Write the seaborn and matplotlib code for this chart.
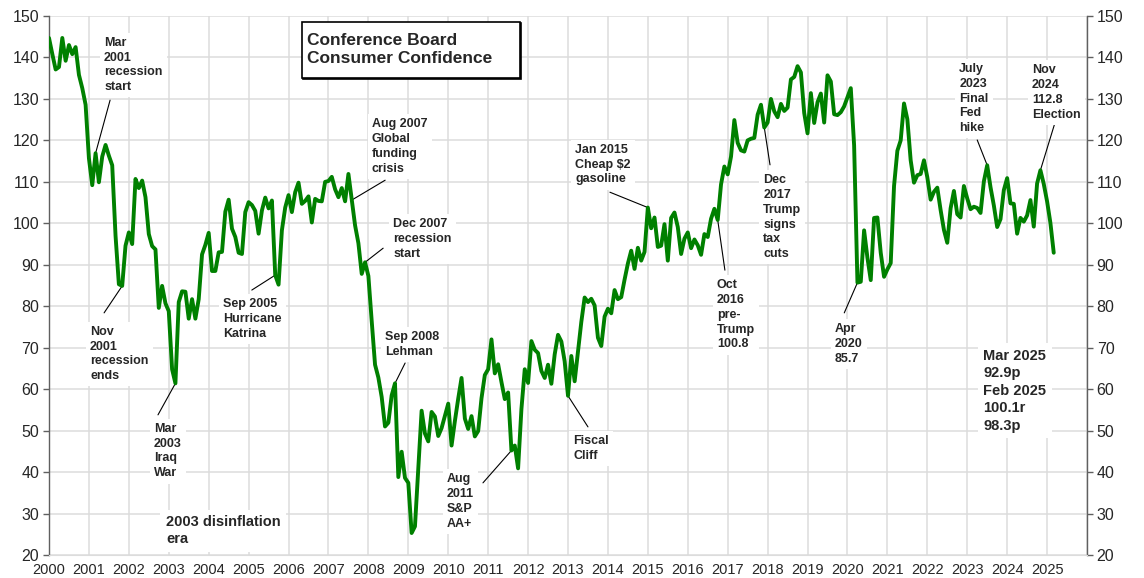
import numpy as np
import pandas as pd
import seaborn as sns
import matplotlib.pyplot as plt
from matplotlib.patches import Rectangle

# Conference Board Consumer Confidence, monthly, Jan 2000 - Mar 2025
values_2000s = [
    144.7, 140.8, 137.1, 137.7, 144.7, 139.2, 143.0, 140.8, 142.5, 135.8, 132.6, 128.6,
    115.7, 109.2, 116.9, 109.9, 116.1, 118.9, 116.3, 114.0, 97.0, 85.3, 84.9, 94.6,
    97.8, 95.0, 110.7, 108.5, 110.3, 106.3, 97.4, 94.5, 93.7, 79.6, 84.9, 80.7,
    78.8, 64.8, 61.4, 81.0, 83.6, 83.5, 77.0, 81.7, 77.0, 81.7, 92.5, 94.8,
    97.7, 88.5, 88.5, 93.0, 93.1, 102.8, 105.7, 98.7, 96.7, 92.9, 92.6, 102.7,
    105.1, 104.4, 103.0, 97.5, 103.1, 106.2, 103.6, 105.5, 87.5, 85.2, 98.3, 103.8,
    106.8, 102.7, 107.5, 109.8, 104.7, 105.4, 106.5, 100.2, 105.9, 105.4, 105.3, 110.0,
    110.2, 111.2, 108.2, 106.3, 108.5, 105.3, 111.9, 105.6, 99.5, 95.2, 87.8, 90.6,
    87.3, 76.4, 65.9, 62.8, 58.1, 51.0, 51.9, 58.5, 61.4, 38.8, 44.9, 38.6,
    37.4, 25.3, 26.9, 40.8, 54.8, 49.3, 47.4, 54.5, 53.4, 48.7, 50.6, 53.6,
]
values_2010s = [
    56.5, 46.4, 52.3, 57.7, 62.7, 52.9, 50.4, 53.5, 48.6, 49.9, 57.8, 63.4,
    64.8, 72.0, 63.8, 66.0, 61.7, 57.6, 59.2, 45.2, 46.4, 40.9, 55.2, 64.8,
    61.5, 71.6, 69.5, 68.7, 64.4, 62.7, 65.9, 61.3, 68.4, 73.1, 71.5, 66.7,
    58.4, 68.0, 61.9, 69.0, 76.2, 82.1, 81.0, 81.8, 80.2, 72.4, 70.4, 77.5,
    79.4, 78.3, 83.9, 81.7, 82.2, 86.4, 90.3, 93.4, 89.0, 94.1, 91.0, 93.1,
    103.8, 98.8, 101.4, 94.3, 94.6, 99.8, 91.0, 101.3, 102.6, 99.1, 92.6, 96.3,
    97.8, 94.0, 96.1, 94.7, 92.4, 97.4, 96.7, 101.1, 103.5, 100.8, 109.4, 113.7,
    111.8, 116.1, 124.9, 119.4, 117.6, 117.3, 120.0, 120.4, 120.6, 126.2, 128.6, 123.1,
    124.3, 130.0, 127.0, 125.6, 128.8, 127.1, 127.9, 134.7, 135.3, 137.9, 136.4, 126.6,
    121.7, 131.4, 124.2, 129.2, 131.3, 124.3, 135.7, 134.2, 126.3, 126.1, 126.8, 128.2,
]
values_2020s = [
    130.4, 132.6, 118.8, 85.7, 85.9, 98.3, 91.7, 86.3, 101.3, 101.4, 92.9, 87.1,
    88.9, 90.4, 109.0, 117.5, 120.0, 128.9, 125.1, 115.2, 109.8, 111.6, 111.9, 115.2,
    111.1, 105.7, 107.6, 108.6, 103.2, 98.4, 95.3, 103.6, 107.8, 102.2, 101.4, 109.0,
    106.0, 103.4, 104.0, 103.7, 102.5, 110.1, 114.0, 108.7, 104.3, 99.1, 101.0, 108.0,
    110.9, 104.8, 104.7, 97.5, 101.3, 100.4, 101.9, 105.6, 99.2, 109.6, 112.8, 109.5,
    105.3, 100.1, 92.9,
]

values = values_2000s + values_2010s + values_2020s
df = pd.DataFrame({"date": 2000 + np.arange(len(values)) / 12, "index": values})

# annotations: text, (year, month) of the event, text top-left, start of leader line
notes = [
    ("Mar\n2001\nrecession\nstart", (2001, 3), (2001.38, 145.0), (2001.53, 129.7)),
    ("Nov\n2001\nrecession\nends", (2001, 11), (2001.03, 75.3), (2001.38, 78.4)),
    ("Mar\n2003\nIraq\nWar", (2003, 3), (2002.63, 51.9), (2002.73, 53.8)),
    ("Sep 2005\nHurricane\nKatrina", (2005, 9), (2004.36, 82.0), (2005.08, 83.9)),
    ("Aug 2007\nGlobal\nfunding\ncrisis", (2007, 8), (2008.09, 125.4), (2008.42, 110.4)),
    ("Dec 2007\nrecession\nstart", (2007, 12), (2008.62, 101.3), (2008.37, 94.0)),
    ("Sep 2008\nLehman", (2008, 9), (2008.42, 74.1), (2008.92, 66.3)),
    ("Aug\n2011\nS&P\nAA+", (2011, 8), (2009.97, 39.8), (2010.87, 37.4)),
    ("Fiscal\nCliff", (2013, 1), (2013.13, 49.0), (2013.50, 50.9)),
    ("Jan 2015\nCheap $2\ngasoline", (2015, 1), (2013.18, 119.2), (2014.05, 107.5)),
    ("Oct\n2016\npre-\nTrump\n100.8", (2016, 10), (2016.73, 86.6), (2016.93, 88.7)),
    ("Dec\n2017\nTrump\nsigns\ntax\ncuts", (2017, 12), (2017.89, 111.9), (2018.06, 114.1)),
    ("Apr\n2020\n85.7", (2020, 4), (2019.69, 76.0), (2019.92, 78.4)),
    ("July\n2023\nFinal\nFed\nhike", (2023, 7), (2022.80, 138.7), (2023.25, 120.1)),
    ("Nov\n2024\n112.8\nElection", (2024, 11), (2024.62, 138.4), (2025.18, 123.7)),
]
latest_note = "Mar 2025\n92.9p\nFeb 2025\n100.1r\n98.3p"
era_note = "2003 disinflation\nera"
title = "Conference Board\nConsumer Confidence"

year_ticks = list(range(2000, 2027))
year_labels = [str(y) for y in range(2000, 2026)] + [""]

sns.set_style("white")
plt.rcParams["font.family"] = ["Liberation Sans", "DejaVu Sans"]

fig = plt.figure(figsize=(11.44, 5.78), dpi=100)
ax = fig.add_axes([49 / 1144, 23 / 578, 1038 / 1144, 539 / 578])

sns.lineplot(data=df, x="date", y="index", color="#008000", lw=2.8, ax=ax, zorder=3)

ax.set_xlim(2000, 2026)
ax.set_ylim(20, 150)
ax.set_xticks(year_ticks)
ax.set_xticklabels(year_labels)
ax.set_yticks(range(20, 151, 10))
ax.set_xlabel("")
ax.set_ylabel("")
ax.grid(True, color="#dcdcdc", lw=1.1)
ax.set_axisbelow(True)

ax.tick_params(axis="y", left=True, right=True, labelleft=True, labelright=True,
               direction="out", length=4, width=1, color="#606060", labelsize=11.5, pad=3)
ax.tick_params(axis="x", length=0, pad=6, labelsize=10.5)
for side in ["left", "right"]:
    ax.spines[side].set_color("#606060")
    ax.spines[side].set_linewidth(1)
ax.spines["top"].set_visible(False)
ax.spines["bottom"].set_color("#dcdcdc")

for text, (yr, mo), (tx, ty), (lx, ly) in notes:
    i = (yr - 2000) * 12 + mo - 1
    px, py = df["date"][i], df["index"][i]
    ax.text(tx, ty, text, ha="left", va="top", fontsize=9, fontweight="bold",
            linespacing=1.32, zorder=4,
            bbox=dict(fc="white", ec="none", pad=3))
    ax.annotate("", xy=(px, py), xytext=(lx, ly),
                arrowprops=dict(arrowstyle="-", color="black", lw=0.8,
                                shrinkA=0, shrinkB=0), zorder=2.5)

ax.text(2023.40, 69.8, latest_note, ha="left", va="top", fontsize=10.5,
        fontweight="bold", linespacing=1.32, zorder=4,
        bbox=dict(fc="white", ec="none", pad=4))
ax.text(2002.93, 29.6, era_note, ha="left", va="top", fontsize=10.5,
        fontweight="bold", linespacing=1.3, zorder=4,
        bbox=dict(fc="white", ec="none", pad=4))

# title box with a slight drop shadow
ax.add_patch(Rectangle((2006.365, 134.81), 5.46, 13.5, fc="black", ec="black",
                       lw=1.2, zorder=3.9))
ax.add_patch(Rectangle((2006.34, 135.05), 5.46, 13.5, fc="white", ec="black",
                       lw=1.2, zorder=4))
ax.text(2006.46, 146.0, title, ha="left", va="top", fontsize=12.5,
        fontweight="bold", linespacing=1.32, zorder=5)

fig.savefig("out.png", dpi=100)
